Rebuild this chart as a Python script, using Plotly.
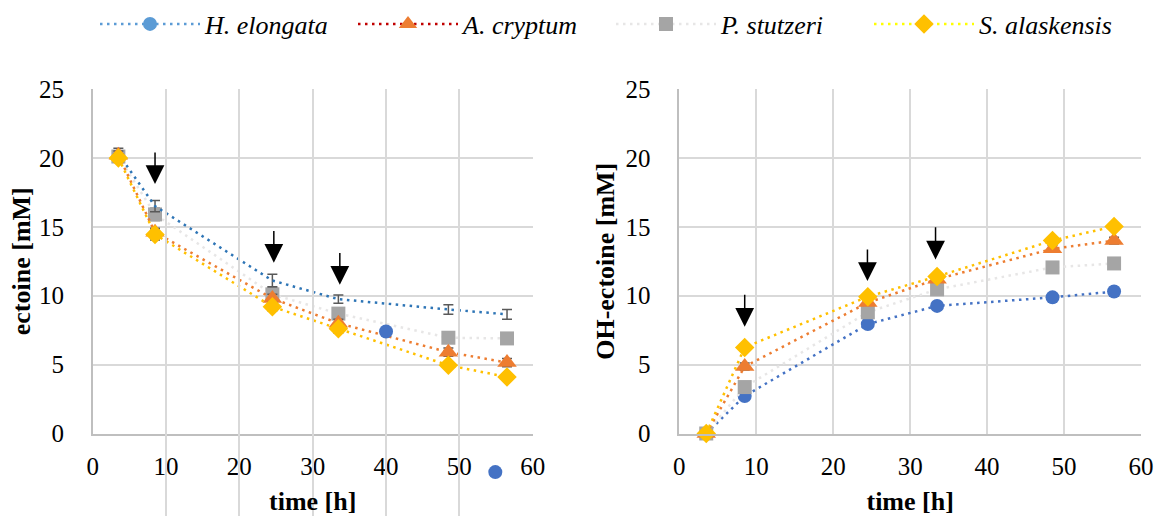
import plotly.graph_objects as go

# ---------------- data ----------------
time_h = [3.5, 8.5, 24.5, 33.5, 48.5, 56.5]
species = ["H. elongata", "A. cryptum", "P. stutzeri", "S. alaskensis"]

# ectoine [mM]
ect_H = [20.3, 16.5, 11.1, 9.75, 9.0, 8.65]
ect_A = [20.2, 14.6, 9.8, 8.0, 5.9, 5.15]
ect_P = [20.1, 15.9, 10.1, 8.7, 6.95, 6.9]
ect_S = [20.0, 14.45, 9.2, 7.6, 4.95, 4.1]
ect_err_H = [0.4, 0.4, 0.45, 0.3, 0.35, 0.35]
ect_err_A = [0.3, 0.3, 0.3, 0.3, 0.3, 0.3]
ect_err_P = [0.4, 0.45, 0.5, 0.4, 0.3, 0.3]
ect_err_S = [0.3, 0.4, 0.3, 0.3, 0.2, 0.2]
# stray H. elongata markers visible in the ectoine panel
ect_H_mark_x = [40.0, 54.9]
ect_H_mark_y = [7.4, -2.8]

# OH-ectoine [mM]
oh_H = [0.0, 2.72, 7.94, 9.26, 9.88, 10.3]
oh_A = [0.0, 4.86, 9.5, 11.2, 13.4, 14.0]
oh_P = [0.0, 3.37, 8.8, 10.46, 12.05, 12.34]
oh_S = [0.0, 6.25, 9.93, 11.4, 14.0, 15.03]
oh_err_H = [0.0, 0.2, 0.2, 0.2, 0.2, 0.3]
oh_err_A = [0.0, 0.25, 0.2, 0.2, 0.25, 0.25]
oh_err_P = [0.0, 0.2, 0.2, 0.2, 0.2, 0.2]
oh_err_S = [0.0, 0.25, 0.2, 0.25, 0.2, 0.2]

# feeding arrows (time, tip, tail)
arr_ect_x = [8.5, 24.7, 33.7]
arr_ect_tip = [18.1, 12.4, 10.8]
arr_ect_tail = [20.5, 14.8, 13.2]
arr_oh_x = [8.5, 24.45, 33.3]
arr_oh_tip = [7.74, 11.06, 12.63]
arr_oh_tail = [10.17, 13.47, 15.08]

x_ticks = [0, 10, 20, 30, 40, 50, 60]
y_ticks = [0, 5, 10, 15, 20, 25]

# ---------------- styles ----------------
FONT = "Liberation Serif"
DOT = "2.5px,4.5px"
ERRC = "#595959"
legend_line = ["#5B9BD5", "#C00000", "#E7E6E6", "#FFFF00"]
marker_col = ["#5B9BD5", "#ED7D31", "#A5A5A5", "#FFC000"]
symbols = ["circle", "triangle-up", "square", "diamond"]
msize = [14, 17, 14, 15]

W, H = 1156, 516
Y_TOP, Y_BOT = 89.0, 433.5
ydom = [(H - Y_BOT) / H, (H - Y_TOP) / H]
# helper axis spanning down to the paper bottom (same scale as y)
per_px = 25.0 / (Y_BOT - Y_TOP)
y3_range = [-(H - Y_BOT) * per_px, 25]

fig = go.Figure()

# legend-only entries
for i, name in enumerate(species):
    fig.add_trace(go.Scatter(
        x=[None], y=[None], name=name, mode="lines+markers",
        line=dict(color=legend_line[i], width=2.5, dash=DOT),
        marker=dict(symbol=symbols[i], size=msize[i], color=marker_col[i]),
        showlegend=True))

def err(arr):
    return dict(type="data", array=arr, visible=True, color=ERRC, thickness=1.5, width=5)

# ---- left panel: ectoine ----
left_line_cols = ["#2E75B6", "#ED7D31", "#E7E6E6", "#FFC000"]
ect_series = [ect_H, ect_A, ect_P, ect_S]
ect_errs = [ect_err_H, ect_err_A, ect_err_P, ect_err_S]
for i in [2, 0, 1, 3]:
    fig.add_trace(go.Scatter(
        x=time_h, y=ect_series[i], mode="lines" if i == 0 else "lines+markers",
        line=dict(color=left_line_cols[i], width=2.5, dash=DOT),
        marker=dict(symbol=symbols[i], size=msize[i], color=marker_col[i]),
        error_y=err(ect_errs[i]), showlegend=False, xaxis="x", yaxis="y",
        cliponaxis=False))
fig.add_trace(go.Scatter(
    x=ect_H_mark_x, y=ect_H_mark_y, mode="markers",
    marker=dict(symbol="circle", size=14, color="#4472C4"),
    showlegend=False, xaxis="x", yaxis="y3", cliponaxis=False))

# ---- right panel: OH-ectoine ----
right_line_cols = ["#4472C4", "#ED7D31", "#E7E6E6", "#FFC000"]
right_marker_cols = ["#4472C4", "#ED7D31", "#A5A5A5", "#FFC000"]
oh_series = [oh_H, oh_A, oh_P, oh_S]
oh_errs = [oh_err_H, oh_err_A, oh_err_P, oh_err_S]
for i in [0, 2, 1, 3]:
    fig.add_trace(go.Scatter(
        x=time_h, y=oh_series[i], mode="lines+markers",
        line=dict(color=right_line_cols[i], width=2.5, dash=DOT),
        marker=dict(symbol=symbols[i], size=msize[i], color=right_marker_cols[i]),
        error_y=err(oh_errs[i]), showlegend=False, xaxis="x2", yaxis="y2",
        cliponaxis=False))

# arrows
anns = []
for x, t, a in zip(arr_ect_x, arr_ect_tip, arr_ect_tail):
    anns.append(dict(x=x, y=t, ax=x, ay=a, xref="x", yref="y", axref="x", ayref="y",
                     showarrow=True, arrowhead=2, arrowsize=2.5, arrowwidth=1.5,
                     arrowcolor="black", text=""))
for x, t, a in zip(arr_oh_x, arr_oh_tip, arr_oh_tail):
    anns.append(dict(x=x, y=t, ax=x, ay=a, xref="x2", yref="y2", axref="x2", ayref="y2",
                     showarrow=True, arrowhead=2, arrowsize=2.5, arrowwidth=1.5,
                     arrowcolor="black", text=""))

tickfont = dict(family=FONT, size=25, color="black")
titlefont = dict(family=FONT, size=26, color="black", weight="bold")

def xax(dom, anchor):
    return dict(domain=dom, anchor=anchor, range=[0, 60], tickvals=x_ticks,
                showgrid=True, gridcolor="#D9D9D9", gridwidth=1.5,
                showline=True, linecolor="#BFBFBF", linewidth=1.5,
                zeroline=False, ticks="", tickfont=tickfont, ticklabelstandoff=10,
                automargin=False,
                title=dict(text="time [h]", font=titlefont, standoff=17))

def yax(dom, anchor, title, standoff):
    return dict(domain=dom, anchor=anchor, range=[0, 25], tickvals=y_ticks,
                showgrid=True, gridcolor="#D9D9D9", gridwidth=1.5,
                showline=True, linecolor="#BFBFBF", linewidth=1.5,
                zeroline=False, ticks="", tickfont=tickfont, ticklabelstandoff=22,
                automargin=False,
                title=dict(text=title, font=titlefont, standoff=standoff))

fig.update_layout(
    width=W, height=H,
    margin=dict(l=0, r=0, t=0, b=0, autoexpand=False),
    paper_bgcolor="white", plot_bgcolor="rgba(0,0,0,0)",
    xaxis=xax([92.7 / W, 532.7 / W], "y"),
    yaxis=yax(ydom, "x", "ectoine [mM]", 1),
    xaxis2=xax([679.3 / W, 1141 / W], "y2"),
    yaxis2=yax(ydom, "x2", "OH-ectoine [mM]", 3),
    yaxis3=dict(domain=[0, ydom[1]], anchor="x", range=y3_range, visible=False,
                showgrid=False, zeroline=False, automargin=False),
    annotations=anns,
    legend=dict(orientation="h", x=95 / W, xanchor="left", y=(H - 24) / H, yanchor="middle",
                font=dict(family=FONT, size=26, color="black", style="italic"),
                entrywidth=143, entrywidthmode="pixels", itemwidth=100,
                bgcolor="rgba(0,0,0,0)"),
    showlegend=True,
)

fig.write_html("out.html", config={"displayModeBar": False},
               post_script="document.body.style.margin='0';document.body.style.padding='0';")
